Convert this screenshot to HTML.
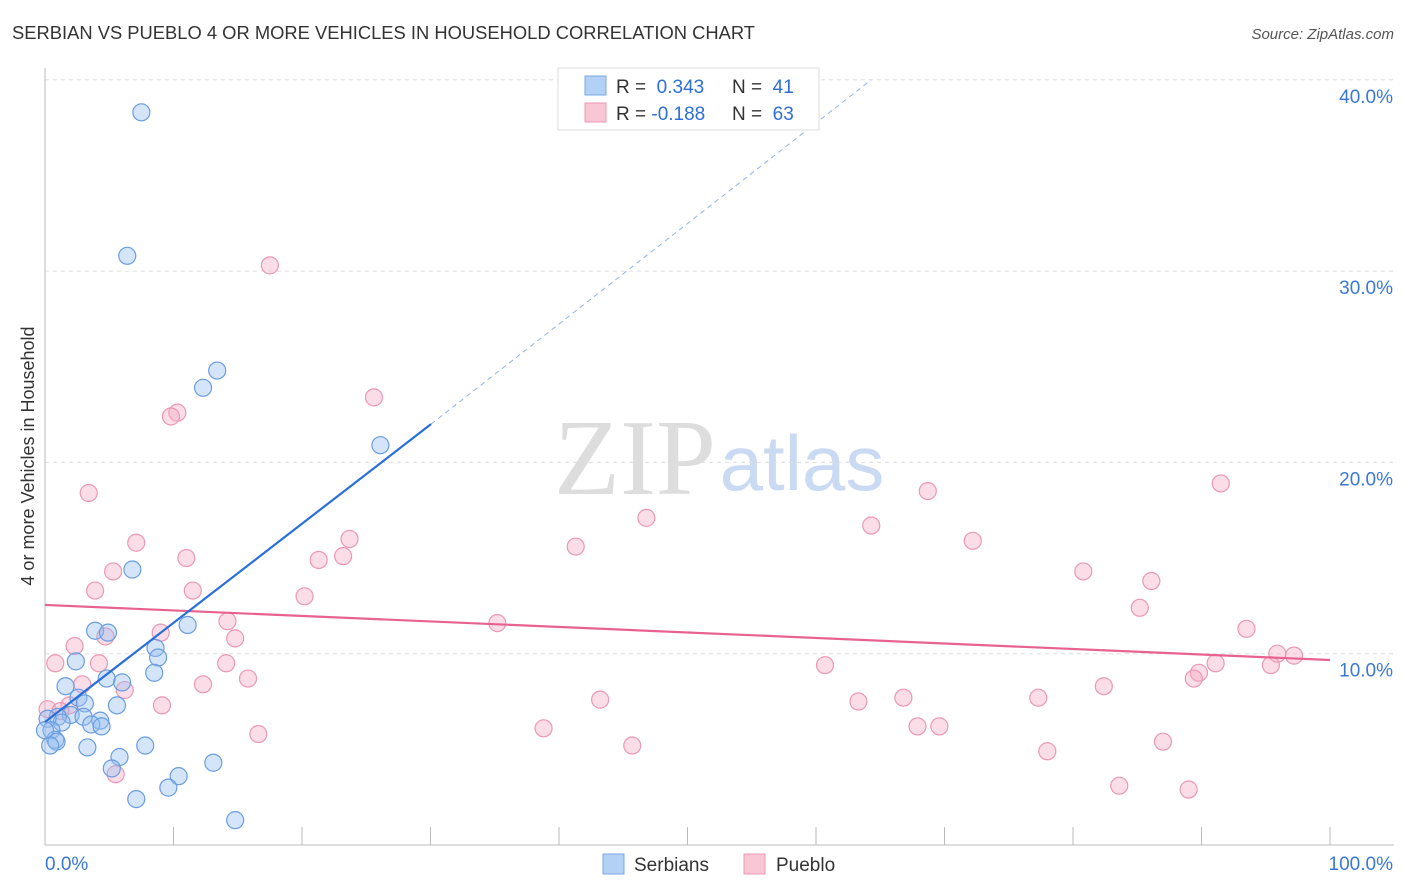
<!DOCTYPE html>
<html><head><meta charset="utf-8"><style>
body{margin:0;background:#fff;font-family:"Liberation Sans",sans-serif;}
svg{display:block}
</style></head><body>
<svg width="1406" height="892" viewBox="0 0 1406 892">
<text x="12" y="39" font-size="18" fill="#333" textLength="743" lengthAdjust="spacingAndGlyphs">SERBIAN VS PUEBLO 4 OR MORE VEHICLES IN HOUSEHOLD CORRELATION CHART</text>
<text x="1394" y="39" font-size="15" fill="#555" font-style="italic" text-anchor="end">Source: ZipAtlas.com</text>
<g>
<text x="635" y="494" font-size="108" fill="#ddd" font-family="Liberation Serif,serif" text-anchor="middle">ZIP</text>
<text x="802" y="490" font-size="78" fill="#c9daf2" text-anchor="middle">atlas</text>
</g>
<g id="grid"></g>
<g id="axes"></g>
<g id="marks"></g>
<text transform="translate(34,456) rotate(-90)" font-size="18" fill="#333" text-anchor="middle">4 or more Vehicles in Household</text>
<g>
<rect x="558" y="68" width="261" height="62" fill="#fff" stroke="#ddd"/>
<rect x="585" y="76" width="21" height="19" fill="#b3d0f5" stroke="#7aa7e3"/>
<rect x="585" y="103" width="21" height="19" fill="#f9c6d5" stroke="#eb98b3"/>
<text x="616" y="93" font-size="19" fill="#333">R = <tspan fill="#2e6fd6">&#160;0.343</tspan><tspan x="732">N = </tspan><tspan fill="#2e6fd6">&#160;41</tspan></text>
<text x="616" y="120" font-size="19" fill="#333">R = <tspan fill="#2e6fd6">-0.188</tspan><tspan x="732">N = </tspan><tspan fill="#2e6fd6">&#160;63</tspan></text>
</g>
<g>
<rect x="603" y="854" width="21" height="20" fill="#b3d0f5" stroke="#7aa7e3"/>
<text x="634" y="871" font-size="19" fill="#333">Serbians</text>
<rect x="744" y="854" width="21" height="20" fill="#f9c6d5" stroke="#eb98b3"/>
<text x="776" y="871" font-size="19" fill="#333">Pueblo</text>
</g>
</svg>
<script>
const serbX=[7.5,6.4,13.4,12.3,26.1,6.8,11.1,3.9,4.9,8.6,8.8,8.5,2.4,1.6,4.8,6.0,2.6,3.1,5.6,2.0,1.0,3.0,4.3,1.3,3.6,4.4,0.2,0.5,0.8,0.9,0.4,3.3,7.8,5.8,5.2,13.1,10.4,9.6,7.1,14.8,0.0];
const serbY=[38.3,30.8,24.8,23.9,20.9,14.4,11.5,11.2,11.1,10.3,9.8,9.0,9.6,8.3,8.7,8.5,7.7,7.4,7.3,6.8,6.7,6.7,6.5,6.4,6.3,6.2,6.6,6.0,5.5,5.4,5.2,5.1,5.2,4.6,4.0,4.3,3.6,3.0,2.4,1.3,6.0];
const puebX=[17.5,25.6,10.3,9.8,3.4,46.8,68.7,91.5,23.7,64.3,72.2,41.3,7.1,11.0,21.3,23.2,5.3,80.8,86.1,3.9,11.5,20.2,85.2,35.2,14.2,9.0,14.8,4.7,2.3,93.5,0.8,4.2,14.1,95.9,97.2,91.1,95.4,60.7,89.8,89.4,15.8,12.3,2.9,6.2,82.4,43.2,66.8,77.3,63.3,9.1,0.2,1.9,1.2,38.8,67.9,69.6,16.6,45.7,87.0,78.0,5.5,83.6,89.0];
const puebY=[30.3,23.4,22.6,22.4,18.4,17.1,18.5,18.9,16.0,16.7,15.9,15.6,15.8,15.0,14.9,15.1,14.3,14.3,13.8,13.3,13.3,13.0,12.4,11.6,11.7,11.1,10.8,10.9,10.4,11.3,9.5,9.5,9.5,10.0,9.9,9.5,9.4,9.4,9.0,8.7,8.7,8.4,8.4,8.1,8.3,7.6,7.7,7.7,7.5,7.3,7.1,7.3,7.0,6.1,6.2,6.2,5.8,5.2,5.4,4.9,3.7,3.1,2.9];
const yTicks=[10,20,30,40];
const xTickLabels=["0.0%","100.0%"];
const serbLine=[0,6.43,30.04,22.0,64.3,40.0];
const puebLine=[0,12.55,100,9.67];
const NS='http://www.w3.org/2000/svg';
const sx=v=>45+v*12.85, sy=v=>845-v*19.13;
function mk(t,a,p){const e=document.createElementNS(NS,t);for(const k in a)e.setAttribute(k,a[k]);p.appendChild(e);return e;}
const grid=document.getElementById('grid'),axes=document.getElementById('axes'),marks=document.getElementById('marks');
yTicks.forEach(t=>{
 const l=mk('line',{x1:45,x2:1394,y1:sy(t),y2:sy(t),stroke:'#ddd','stroke-dasharray':'4,4'},grid);
 
 
 const tx=mk('text',{x:1393,y:sy(t)+23,'font-size':19,fill:'#3a78d8','text-anchor':'end'},axes);
 tx.textContent=t.toFixed(1)+'%';
 
 
});
mk('line',{x1:45,x2:45,y1:68,y2:845,stroke:'#bbb'},axes);
mk('line',{x1:45,x2:1394,y1:845,y2:845,stroke:'#bbb'},axes);
for(let i=1;i<=10;i++){const t=mk('line',{x1:sx(i*10),x2:sx(i*10),y1:827,y2:845,stroke:'#bbb'},axes);
 
 }
const xl0=mk('text',{x:45,y:870,'font-size':19,fill:'#3a78d8'},axes);xl0.textContent=xTickLabels[0];


const xl1=mk('text',{x:1393,y:870,'font-size':19,fill:'#3a78d8','text-anchor':'end'},axes);xl1.textContent=xTickLabels[1];


puebX.forEach((x,i)=>{const c=mk('circle',{cx:sx(x),cy:sy(puebY[i]),r:8.5,fill:'rgba(245,170,195,0.4)',stroke:'#eb98b3','stroke-width':1.2},marks);
 
 });
serbX.forEach((x,i)=>{const c=mk('circle',{cx:sx(x),cy:sy(serbY[i]),r:8.5,fill:'rgba(150,190,240,0.4)',stroke:'#6a9de0','stroke-width':1.2},marks);
 
 });
const pl=mk('line',{x1:sx(puebLine[0]),y1:sy(puebLine[1]),x2:sx(puebLine[2]),y2:sy(puebLine[3]),stroke:'#e8628f','stroke-width':2.2},marks);


const bl=mk('line',{x1:sx(serbLine[0]),y1:sy(serbLine[1]),x2:sx(serbLine[2]),y2:sy(serbLine[3]),stroke:'#2a6fd8','stroke-width':2.2},marks);


const bd=mk('line',{x1:sx(serbLine[2]),y1:sy(serbLine[3]),x2:sx(serbLine[4]),y2:sy(serbLine[5]),stroke:'#8fb3e8','stroke-width':1,'stroke-dasharray':'5,4'},marks);


</script>
</body></html>
